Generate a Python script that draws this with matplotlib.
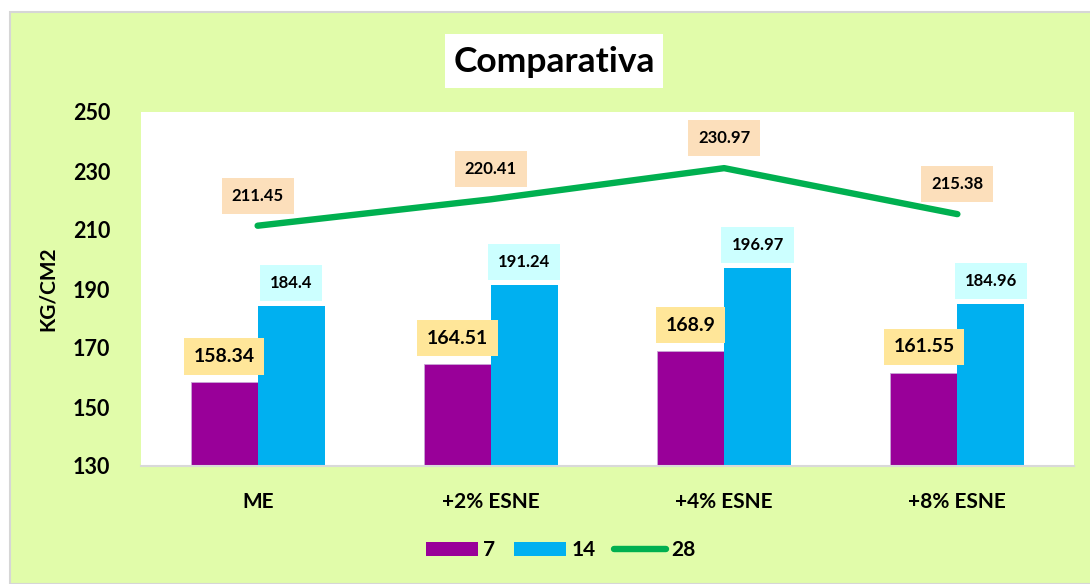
import matplotlib
matplotlib.use("Agg")
import matplotlib.pyplot as plt
from matplotlib.patches import Rectangle, Patch
from matplotlib.lines import Line2D

categories = ["ME", "+2% ESNE", "+4% ESNE", "+8% ESNE"]
series_labels = ["7", "14", "28"]
vals_7 = [158.34, 164.51, 168.9, 161.55]
vals_14 = [184.4, 191.24, 196.97, 184.96]
vals_28 = [211.45, 220.41, 230.97, 215.38]
yticks = [130, 150, 170, 190, 210, 230, 250]

plt.rcParams['font.family'] = ['Lato', 'DejaVu Sans']
plt.rcParams['font.weight'] = 'bold'

W, H = 1090, 584
fig = plt.figure(figsize=(W / 100, H / 100), dpi=100)
fig.patch.set_facecolor('white')
bg = '#E1FCAA'
fig.patches.append(Rectangle((10 / W, 0), 1 - 10 / W + 0.01, 1 - 12 / H, transform=fig.transFigure,
                             facecolor=bg, edgecolor='#D6D6D6', lw=1.5, zorder=-10))

ax = fig.add_axes([141 / W, 1 - 466 / H, (1074 - 141) / W, (466 - 112) / H])
ax.set_zorder(1)
ax.set_facecolor('white')

x = list(range(len(categories)))
bw = 0.287
purple = '#990099'
blue = '#00B0F0'
green = '#00B050'
xp = [i - bw / 2 for i in x]
xb = [i + bw / 2 for i in x]
ax.bar(xp, vals_7, width=bw, color=purple, edgecolor='#C9A6D6', linewidth=0.6, zorder=2)
ax.bar(xb, vals_14, width=bw, color=blue, zorder=2)
ax.plot(x, vals_28, color=green, lw=4.6, solid_capstyle='round', solid_joinstyle='round', zorder=3)

ax.set_xlim(-0.5, len(categories) - 0.5)
ax.set_ylim(130, 250)
ax.set_yticks(yticks)
ax.set_xticks(x)
ax.set_xticklabels(categories, fontsize=15, fontweight='bold')
ax.set_yticklabels([str(t) for t in yticks], fontsize=15.5, fontweight='bold')
ax.tick_params(axis='both', length=0)
ax.tick_params(axis='x', pad=19)
ax.tick_params(axis='y', pad=22)
for s in ['top', 'right', 'left']:
    ax.spines[s].set_visible(False)
ax.spines['bottom'].set_color('#D9D9D9')
ax.spines['bottom'].set_linewidth(1.5)

def lab(xv, yv, txt, fc, off_px, fs, pad):
    ax.annotate(txt, (xv, yv), xytext=(0, off_px * 0.72), textcoords='offset points',
                ha='center', va='center', fontsize=fs, fontweight='bold', zorder=5,
                bbox=dict(boxstyle=f'square,pad={pad}', fc=fc, ec='none'))

for xi, v in zip(xp, vals_7):
    lab(xi, v, f"{v:g}", '#FFE699', 26, 14, 0.5)
for xi, v in zip(xb, vals_14):
    lab(xi, v, f"{v:g}", '#CCFFFF', 23, 12, 0.6)
for xi, v in zip(x, vals_28):
    lab(xi, v, f"{v:g}", '#FCDFBB', 30, 12, 0.6)

# title
fig.patches.append(Rectangle((445 / W, 1 - 88 / H), (663 - 445) / W, 54 / H, transform=fig.transFigure,
                             facecolor='white', edgecolor='none', zorder=1))
fig.text(554 / W, 1 - 62 / H, "Comparativa", ha='center', va='center', fontsize=25.5, fontweight='bold', zorder=2)

fig.text(48 / W, 1 - 289 / H, "KG/CM2", rotation=90, ha='center', va='center', fontsize=15, fontweight='bold')

handles = [Patch(facecolor=purple, edgecolor='none'),
           Patch(facecolor=blue, edgecolor='none'),
           Line2D([0], [0], color=green, lw=4.6, solid_capstyle='round')]
fig.legend(handles, series_labels, loc='center', bbox_to_anchor=(561 / W, 1 - 550 / H), ncol=3,
           frameon=False, prop={'weight': 'bold', 'size': 15}, handlelength=2.5, handleheight=0.68,
           handletextpad=0.25, columnspacing=0.9)

fig.savefig('out.png', dpi=100, facecolor=fig.get_facecolor())
